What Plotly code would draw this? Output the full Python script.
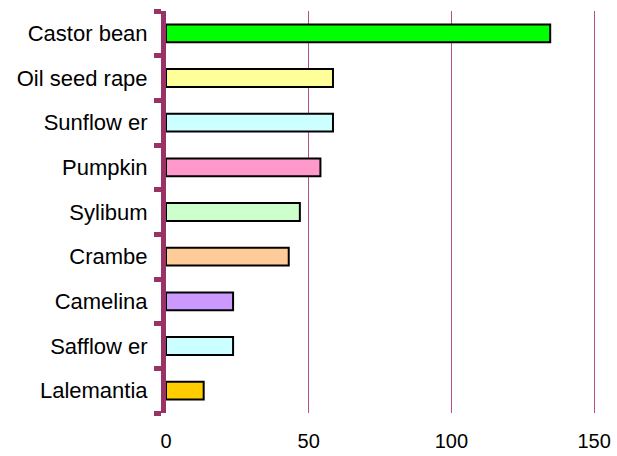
import plotly.graph_objects as go

# Oil crops, listed top to bottom
crops = ["Castor bean", "Oil seed rape", "Sunflow er", "Pumpkin", "Sylibum",
         "Crambe", "Camelina", "Safflow er", "Lalemantia"]
values = [134.6, 58.5, 58.5, 54.1, 46.9, 43.0, 23.5, 23.5, 13.2]
bar_colors = ["#00FF00", "#FFFF99", "#CCFFFF", "#FF99CC", "#CCFFCC",
              "#FFCC99", "#CC99FF", "#CCFFFF", "#FFCC00"]
x_ticks = [0, 50, 100, 150]

fig = go.Figure(go.Bar(
    x=values,
    y=crops,
    orientation="h",
    width=0.4,
    marker=dict(color=bar_colors, line=dict(color="black", width=2)),
))

fig.update_layout(
    width=617,
    height=456,
    margin=dict(l=166, r=20, t=11, b=43),
    paper_bgcolor="white",
    plot_bgcolor="white",
    showlegend=False,
    font=dict(family="Liberation Sans, Arial, sans-serif", size=20, color="black"),
    xaxis=dict(
        range=[0, 151],
        tickvals=x_ticks,
        showgrid=True,
        gridcolor="#B85088",
        gridwidth=1,
        zeroline=False,
        showline=False,
        ticks="",
        ticklabelstandoff=14,
        tickfont=dict(size=20),
        automargin=False,
    ),
    yaxis=dict(
        categoryorder="array",
        categoryarray=crops[::-1],
        showline=True,
        linecolor="#993366",
        linewidth=5,
        ticks="outside",
        tickson="boundaries",
        ticklen=7,
        tickwidth=5,
        tickcolor="#993366",
        showgrid=False,
        ticklabelstandoff=9,
        tickfont=dict(size=22),
        automargin=False,
    ),
)

fig.write_html("out.html")
